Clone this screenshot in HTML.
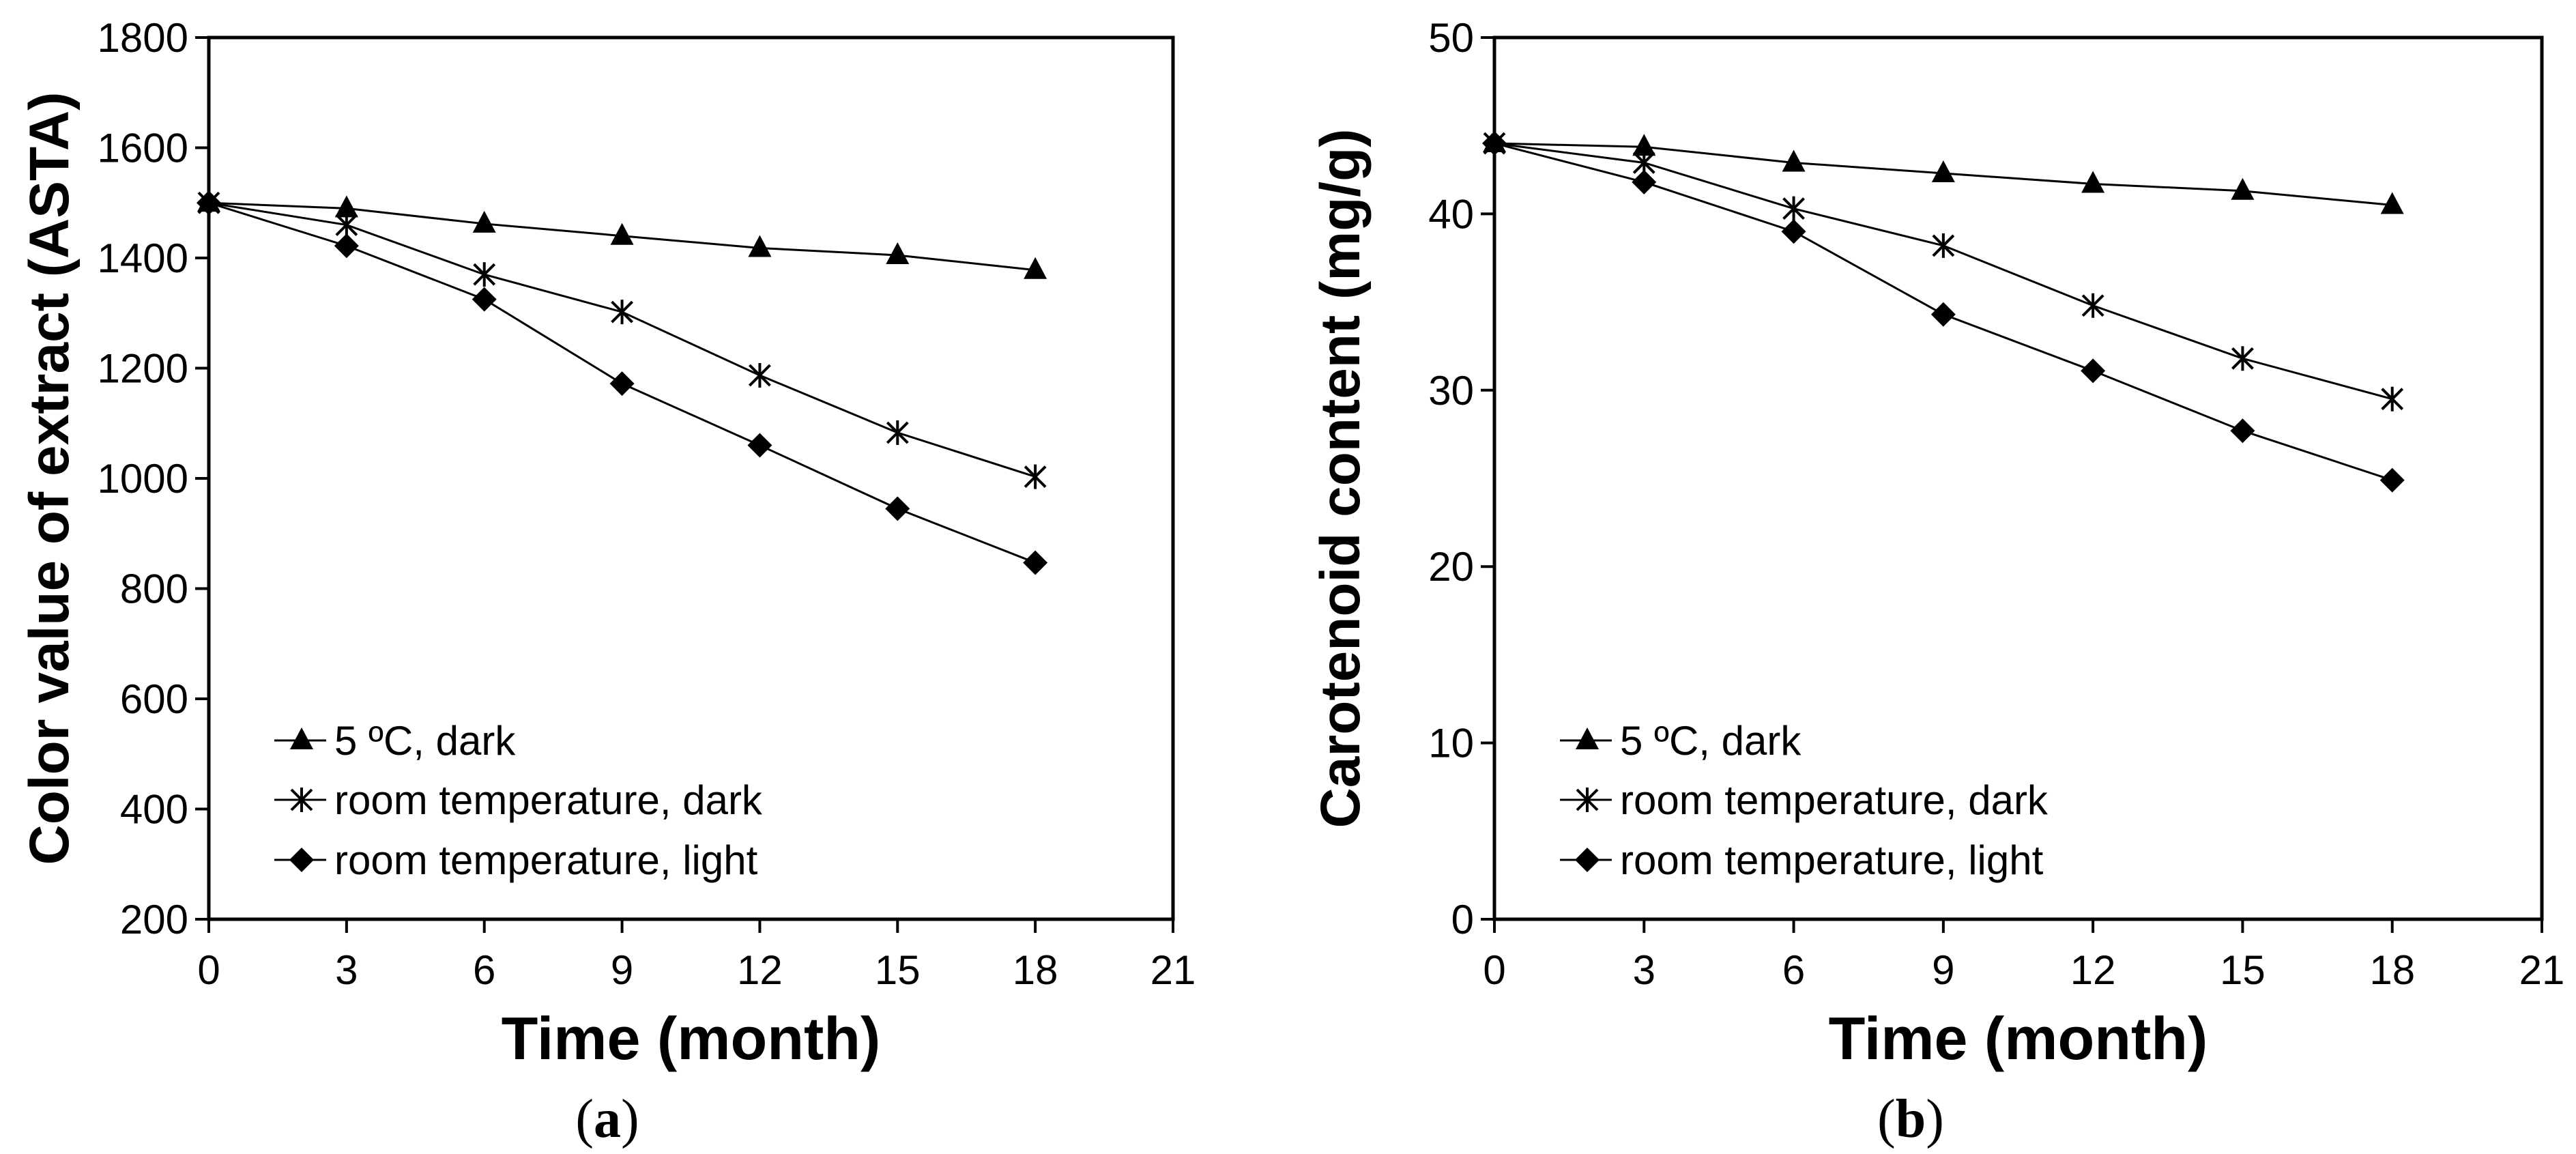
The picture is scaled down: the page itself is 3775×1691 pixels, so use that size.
<!DOCTYPE html>
<html><head><meta charset="utf-8"><style>
html,body{margin:0;padding:0;background:#fff;}
svg{display:block;font-family:"Liberation Sans",Arial,sans-serif;}
</style></head><body>
<svg id="fig" width="3775" height="1691" viewBox="0 0 3775 1691" xmlns="http://www.w3.org/2000/svg"></svg>
<script>
const months = [0,3,6,9,12,15,18];
const xTicks = [0,3,6,9,12,15,18,21];
const seriesNames = ["5 ºC, dark","room temperature, dark","room temperature, light"];
const colorA5dark = [1500,1490,1462,1440,1418,1405,1378];
const colorARoomDark = [1500,1460,1370,1302,1187,1083,1003];
const colorARoomLight = [1500,1422,1325,1172,1060,945,847];
const colorTicks = [200,400,600,800,1000,1200,1400,1600,1800];
const carot5dark = [44,43.8,42.9,42.3,41.7,41.3,40.5];
const carotRoomDark = [44,42.9,40.3,38.2,34.8,31.8,29.5];
const carotRoomLight = [44,41.8,39,34.3,31.1,27.7,24.9];
const carotTicks = [0,10,20,30,40,50];

const NS="http://www.w3.org/2000/svg";
const svg=document.getElementById('fig');
function mk(tag,attrs,parent){const e=document.createElementNS(NS,tag);for(const k in attrs)e.setAttribute(k,attrs[k]);(parent||svg).appendChild(e);return e;}

function marker(g,type,x,y){
  let m;
  if(type===0){m=mk('polygon',{points:`${x},${y-19} ${x+17},${y+13} ${x-17},${y+13}`,fill:'#000'},g);}
  else if(type===1){
    m=mk('g',{stroke:'#000','stroke-width':4},g);
    mk('line',{x1:x-15,y1:y-15,x2:x+15,y2:y+15},m);
    mk('line',{x1:x+15,y1:y-15,x2:x-15,y2:y+15},m);
    mk('line',{x1:x,y1:y-18,x2:x,y2:y+18},m);
  } else {m=mk('polygon',{points:`${x},${y-18} ${x+18},${y} ${x},${y+18} ${x-18},${y}`,fill:'#000'},g);}
  return m;
}

function chart(cfg){
  const {x0,x1,y0,y1,ymin,ymax,ticks,series,ytitle,ytitleX,label,name}=cfg;
  const g=mk('g',{});
  
  
  const xs=v=>x0+(v-0)/(21)*(x1-x0);
  const ys=v=>y1-(v-ymin)/(ymax-ymin)*(y1-y0);
  const frame=mk('rect',{x:x0,y:y0,width:x1-x0,height:y1-y0,fill:'none',stroke:'#000','stroke-width':5},g);
  
  
  ticks.forEach(t=>{
    const y=ys(t);
    mk('line',{x1:x0-20,y1:y,x2:x0,y2:y,stroke:'#000','stroke-width':4},g);
    const tx=mk('text',{x:x0-30,y:y+21,'text-anchor':'end','font-size':60},g);
    tx.textContent=t;
    
    
  });
  xTicks.forEach(t=>{
    const x=xs(t);
    mk('line',{x1:x,y1:y1,x2:x,y2:y1+20,stroke:'#000','stroke-width':4},g);
    const tx=mk('text',{x:x,y:y1+95,'text-anchor':'middle','font-size':60},g);
    tx.textContent=t;
    
    
  });
  series.forEach((vals,si)=>{
    const sg=mk('g',{},g);
    
    
    mk('polyline',{points:vals.map((v,i)=>xs(months[i])+','+ys(v)).join(' '),fill:'none',stroke:'#000','stroke-width':3},sg);
    vals.forEach((v,i)=>{
      const m=marker(sg,si,xs(months[i]),ys(v));
      
      
    });
  });
  const lg=mk('g',{},g);
  
  
  const legY=[1085,1172,1260];
  seriesNames.forEach((n,i)=>{
    const eg=mk('g',{},lg);
    
    
    const lx=x0+96;
    mk('line',{x1:lx,y1:legY[i],x2:lx+76,y2:legY[i],stroke:'#000','stroke-width':3},eg);
    marker(eg,i,lx+40,legY[i]);
    const t=mk('text',{x:lx+88,y:legY[i]+21,'font-size':60},eg);
    t.textContent=n;
  });
  const xt=mk('text',{x:(x0+x1)/2,y:1552,'text-anchor':'middle','font-size':88,'font-weight':'bold'},g);
  xt.textContent='Time (month)';
  
  
  const yt=mk('text',{x:0,y:0,'text-anchor':'middle','font-size':82,'font-weight':'bold',transform:`translate(${ytitleX},${(y0+y1)/2}) rotate(-90)`},g);
  yt.textContent=ytitle;
  
  
  const pl=mk('text',{x:cfg.labelX,y:1666,'text-anchor':'middle','font-size':80,'font-family':'"Liberation Serif",serif'},g);
  pl.innerHTML='(<tspan font-weight="bold">'+label+'</tspan>)';
  
  
}

chart({x0:306,x1:1719,y0:55,y1:1347,ymin:200,ymax:1800,ticks:colorTicks,
  series:[colorA5dark,colorARoomDark,colorARoomLight],ytitle:'Color value of extract (ASTA)',ytitleX:100,label:'a',labelX:890,name:'chart-color-value'});
chart({x0:2190,x1:3725,y0:55,y1:1347,ymin:0,ymax:50,ticks:carotTicks,
  series:[carot5dark,carotRoomDark,carotRoomLight],ytitle:'Carotenoid content (mg/g)',ytitleX:1992,label:'b',labelX:2800,name:'chart-carotenoid'});
</script>
</body></html>
